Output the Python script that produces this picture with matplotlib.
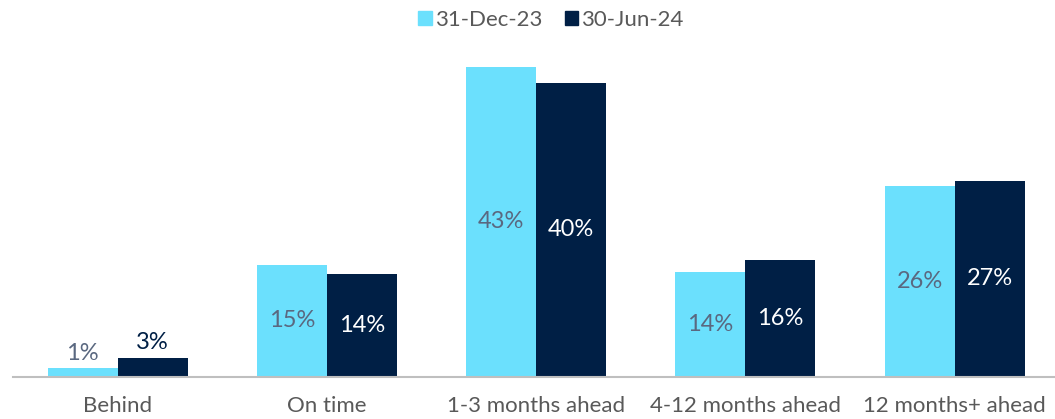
import numpy as np
import matplotlib.pyplot as plt
from matplotlib.patches import Patch

# data
categories = ['Behind', 'On time', '1-3 months ahead', '4-12 months ahead', '12 months+ ahead']
series_names = ['31-Dec-23', '30-Jun-24']
dec23 = [1.2, 15.4, 42.7, 14.4, 26.2]
jun24 = [2.6, 14.1, 40.4, 16.0, 26.9]

cyan = '#6BE0FD'
navy = '#001F45'
grey = '#595959'
label_on_cyan = '#5A6880'

plt.rcParams['font.family'] = ['Lato', 'DejaVu Sans']

fig = plt.figure(figsize=(10.55, 4.19), dpi=100)
W, H = 1055, 419
# axes placed in pixels: left 13, baseline at y=376.5, top at y=50
ax = fig.add_axes([13 / W, (H - 376.5) / H, 1046.25 / W, 326.5 / H])

x = np.arange(len(categories))
bw = 0.335
b1 = ax.bar(x - bw / 2, dec23, bw, color=cyan, zorder=2)
b2 = ax.bar(x + bw / 2, jun24, bw, color=navy, zorder=2)

ax.set_xlim(-0.5, len(categories) - 0.5)
ax.set_ylim(0, 45)

for bars, vals, inside_col in [(b1, dec23, label_on_cyan), (b2, jun24, 'white')]:
    for rect, v in zip(bars, vals):
        cx = rect.get_x() + rect.get_width() / 2
        txt = f'{v:.0f}%'
        if v < 5:
            col = label_on_cyan if inside_col != 'white' else navy
            ax.annotate(txt, (cx, v), xytext=(0, 3), textcoords='offset points',
                        ha='center', va='bottom', fontsize=17, color=col)
        else:
            ax.text(cx, v / 2, txt, ha='center', va='center', fontsize=17, color=inside_col)

ax.set_xticks(x)
ax.set_xticklabels(categories, fontsize=16, color=grey)
ax.tick_params(axis='x', length=0, pad=14)
ax.set_yticks([])
for s in ['top', 'right', 'left']:
    ax.spines[s].set_visible(False)
ax.spines['bottom'].set_color('#BFBFBF')
ax.spines['bottom'].set_linewidth(1.5)

handles = [Patch(color=cyan), Patch(color=navy)]
fig.legend(handles, series_names, loc='upper center', bbox_to_anchor=(551 / W, 1.025),
           ncol=2, frameon=False, fontsize=16, labelcolor=grey,
           handlelength=0.6, handleheight=0.6, handletextpad=0.15, columnspacing=1.0)

fig.savefig('out.png', dpi=100)
